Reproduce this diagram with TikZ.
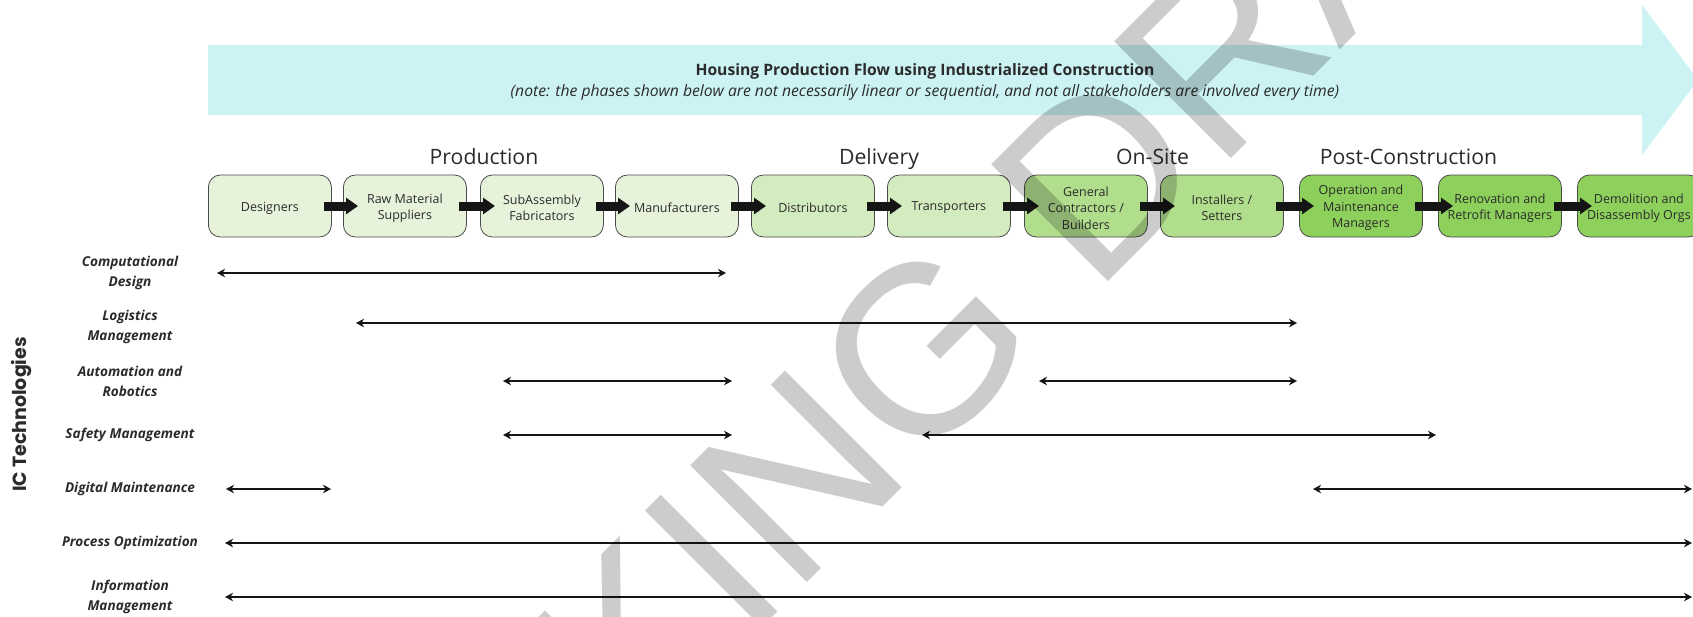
\documentclass[tikz,border=0pt]{standalone}
\usepackage{fontspec}
\setmainfont{Open Sans}
\newfontfamily\wmfont{Liberation Sans}
\newfontfamily\icfont{Poppins}
\usetikzlibrary{arrows.meta}
\definecolor{bandc}{HTML}{CCF2F4}
\definecolor{cprod}{HTML}{E7F2DB}
\definecolor{cdeliv}{HTML}{D3ECBF}
\definecolor{consite}{HTML}{B1DE8C}
\definecolor{cpost}{HTML}{8DD05C}
\definecolor{boxline}{HTML}{4A4A4A}
\definecolor{arrowc}{HTML}{151515}
\definecolor{txtc}{HTML}{2B2B2B}
\begin{document}
\begin{tikzpicture}[x=1pt,y=-1pt,
  stage/.style={draw=boxline, line width=0.8pt, rounded corners=12pt,
    minimum width=123pt, minimum height=62pt, inner sep=0pt, anchor=west},
  stagetext/.style={align=center, inner sep=0pt, text=txtc,
    font=\fontsize{12.5}{16.5}\selectfont},
  blk/.style={line width=9pt, draw=arrowc, -{Triangle[length=12pt,width=16pt]}},
  phase/.style={anchor=base, text=txtc, font=\fontsize{21.2}{25}\selectfont},
  techlabel/.style={align=center, text=txtc, inner sep=0pt,
    font=\bfseries\itshape\fontsize{13.6}{20}\selectfont},
  span/.style={line width=2pt, draw=arrowc,
    {Stealth[length=8pt,width=8.5pt,inset=2.5pt]}-{Stealth[length=8pt,width=8.5pt,inset=2.5pt]}},
  wm/.style={inner sep=0pt, text=black, text opacity=0.2,
    font=\wmfont\fontsize{240}{240}\selectfont}]
\useasboundingbox (0,0) rectangle (1693,616);
\begin{scope}
\clip (0,0) rectangle (1693,616);
% big flow arrow
\fill[bandc] (208,45) -- (1642,45) -- (1642,5) -- (1698,80) -- (1642,155)
  -- (1642,115) -- (208,115) -- cycle;
\node[anchor=base, text=txtc, font=\bfseries\fontsize{15.7}{18}\selectfont] (title) at (925,75)
  {Housing Production Flow using Industrialized Construction};
\node[anchor=base, text=txtc, font=\itshape\fontsize{15.7}{18}\selectfont] (note) at (925,96.5)
  {(note: the phases shown below are not necessarily linear or sequential, and not all stakeholders are involved every time)};
% phases
\node[phase] (pprod) at (484,164) {Production};
\node[phase] (pdel) at (879,164) {Delivery};
\node[phase] (pons) at (1152.5,164) {On-Site};
\node[phase] (ppost) at (1408.5,164) {Post-Construction};
% stages
\node[stage, fill=cprod] (s1) at (208,206) {};
\node[stage, fill=cprod] (s2) at (343,206) {};
\node[stage, fill=cprod] (s3) at (480,206) {};
\node[stage, fill=cprod] (s4) at (615,206) {};
\node[stage, fill=cdeliv] (s5) at (751,206) {};
\node[stage, fill=cdeliv] (s6) at (887,206) {};
\node[stage, fill=consite] (s7) at (1024,206) {};
\node[stage, fill=consite] (s8) at (1160,206) {};
\node[stage, fill=cpost] (s9) at (1299,206) {};
\node[stage, fill=cpost] (s10) at (1438,206) {};
\node[stage, fill=cpost] (s11) at (1577,206) {};
\node[stagetext] (l1) at ([yshift=-2pt]s1.center) {Designers};
\node[stagetext] (l2) at ([yshift=-2pt]s2.center) {Raw Material\\Suppliers};
\node[stagetext] (l3) at ([yshift=-2pt]s3.center) {SubAssembly\\Fabricators};
\node[stagetext] (l4) at ([yshift=-2pt]s4.center) {Manufacturers};
\node[stagetext] (l5) at ([yshift=-2pt]s5.center) {Distributors};
\node[stagetext] (l6) at ([yshift=-2pt]s6.center) {Transporters};
\node[stagetext] (l7) at ([yshift=-2pt]s7.center) {General\\Contractors /\\Builders};
\node[stagetext] (l8) at ([yshift=-2pt]s8.center) {Installers /\\Setters};
\node[stagetext] (l9) at ([yshift=-2pt]s9.center) {Operation and\\Maintenance\\Managers};
\node[stagetext] (l10) at ([yshift=-2pt]s10.center) {Renovation and\\Retrofit Managers};
\node[stagetext] (l11) at ([yshift=-2pt]s11.center) {Demolition and\\Disassembly Orgs};
\foreach \a/\b in {s1/s2,s2/s3,s3/s4,s4/s5,s5/s6,s6/s7,s7/s8,s8/s9,s9/s10,s10/s11}
  \draw[blk] ([xshift=-8pt]\a.east) -- ([xshift=15pt]\b.west);
% IC technologies
\node[rotate=90, anchor=base, inner sep=0pt, text=txtc,
  font=\icfont\bfseries\fontsize{19}{22}\selectfont] (ictech) at (27,414.5) {IC Technologies};
\node[techlabel] (t1) at (130,273) {Computational\\Design};
\node[techlabel] (t2) at (130,327) {Logistics\\Management};
\node[techlabel] (t3) at (130,381) {Automation and\\Robotics};
\node[techlabel] (t4) at (130,435) {Safety Management};
\node[techlabel] (t5) at (130,489) {Digital Maintenance};
\node[techlabel] (t6) at (130,543) {Process Optimization};
\node[techlabel] (t7) at (130,597) {Information\\Management};
% spans
\coordinate (a1l) at (217,273);  \coordinate (a1r) at (726,273);
\coordinate (a2l) at (356,323);  \coordinate (a2r) at (1297,323);
\coordinate (a3l) at (503,381);  \coordinate (a3r) at (732,381);
\coordinate (a3m) at (1039,381); \coordinate (a3n) at (1297,381);
\coordinate (a4l) at (503,435);  \coordinate (a4r) at (732,435);
\coordinate (a4m) at (922,435);  \coordinate (a4n) at (1436,435);
\coordinate (a5l) at (226,489);  \coordinate (a5r) at (331,489);
\coordinate (a5m) at (1313,489); \coordinate (a5n) at (1692,489);
\coordinate (a6l) at (225,543);  \coordinate (a6r) at (1692,543);
\coordinate (a7l) at (225,597);  \coordinate (a7r) at (1692,597);
\draw[span] (a1l) -- (a1r);
\draw[span] (a2l) -- (a2r);
\draw[span] (a3l) -- (a3r);
\draw[span] (a3m) -- (a3n);
\draw[span] (a4l) -- (a4r);
\draw[span] (a4m) -- (a4n);
\draw[span] (a5l) -- (a5r);
\draw[span] (a5m) -- (a5n);
\draw[span] (a6l) -- (a6r);
\draw[span] (a7l) -- (a7r);
% watermark
\node[wm, anchor=base west, rotate=45] (wmark) at (218,1172) {WORKING DRAFT};
\end{scope}
\end{tikzpicture}
\end{document}
